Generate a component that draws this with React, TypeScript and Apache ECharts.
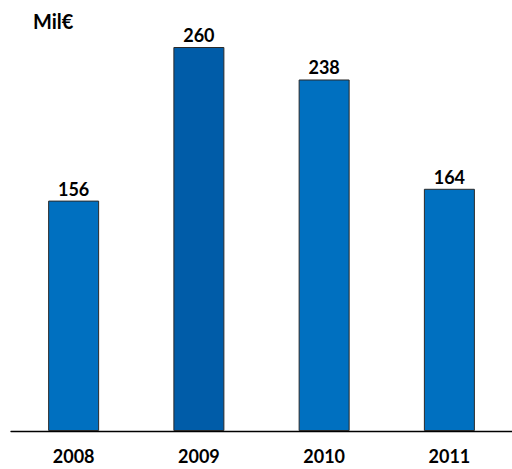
import React, { useEffect, useRef } from "react";
import * as echarts from "echarts";

const categories = ["2008", "2009", "2010", "2011"];
const values = [156, 260, 238, 164];
const barColors = ["#0070C0", "#005CA8", "#0070C0", "#0070C0"];
const unitLabel = "Mil€";

export default function App() {
  const ref = useRef<HTMLDivElement>(null);
  useEffect(() => {
    const chart = echarts.init(ref.current!, null, { renderer: "svg" });
    const font = "Lato, 'Open Sans', sans-serif";
    chart.setOption({
      animation: false,
      backgroundColor: "#ffffff",
      grid: { left: 11, right: -4, top: 47, bottom: 38 },
      graphic: [
        {
          type: "text",
          left: 33,
          top: 11,
          style: { text: unitLabel, font: `bold 20px ${font}`, fill: "#000" },
        },
      ],
      xAxis: {
        type: "category",
        data: categories,
        axisLine: { lineStyle: { color: "#000", width: 1.3 } },
        axisTick: { show: false },
        axisLabel: {
          margin: 16,
          color: "#000",
          fontWeight: "bold",
          fontSize: 18,
          lineHeight: 18,
          fontFamily: font,
        },
      },
      yAxis: {
        type: "value",
        min: 0,
        max: 260,
        show: false,
        splitLine: { show: false },
      },
      series: [
        {
          type: "bar",
          barWidth: 51,
          data: values.map((v, i) => ({
            value: v,
            itemStyle: { color: barColors[i] },
          })),
          itemStyle: { borderColor: "#2a2a2a", borderWidth: 1 },
          label: {
            show: true,
            position: "top",
            distance: 3,
            color: "#000",
            fontWeight: "bold",
            fontSize: 18,
            fontFamily: font,
          },
        },
      ],
    });
    return () => chart.dispose();
  }, []);
  return (
    <div
      ref={ref}
      style={{ position: "absolute", left: 0, top: 0, width: 512, height: 469 }}
    />
  );
}
